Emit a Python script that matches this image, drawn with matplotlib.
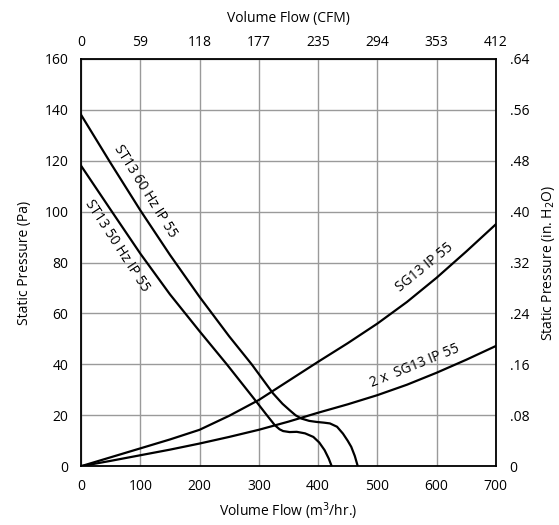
import matplotlib.pyplot as plt

plt.rcParams['font.family'] = ['Open Sans', 'DejaVu Sans']

# curves (x in m3/hr, y in Pa)
st60_x = [0, 50, 100, 150, 200, 250, 288, 324, 340, 352, 362, 372, 385, 397, 410, 420, 432, 442, 450, 456, 462, 467]
st60_y = [138, 119, 100.5, 83, 66.5, 51, 40, 28.6, 24.5, 22, 20, 18.7, 17.8, 17.4, 17.1, 16.8, 15.5, 12.8, 10, 7.6, 4, 0]

st50_x = [0, 52, 100, 150, 200, 246, 296, 312, 327, 335, 341, 352, 364, 378, 392, 402, 411, 418, 423]
st50_y = [118, 100, 83.5, 67.5, 53, 40, 25.3, 20.5, 16.1, 14.5, 13.8, 13.4, 13.5, 12.9, 11.5, 9.3, 6.3, 3, 0]

sg_x = [0, 50, 100, 150, 200, 250, 300, 350, 400, 450, 500, 550, 600, 650, 700]
sg_y = [0, 3.5, 7, 10.5, 14.3, 19.8, 26, 33.5, 41, 48.3, 56, 64.5, 74, 84.3, 95]

sg2_x = [0, 50, 100, 150, 200, 250, 300, 350, 400, 450, 500, 550, 600, 650, 700]
sg2_y = [0, 2.1, 4.3, 6.5, 8.9, 11.5, 14.3, 17.5, 21, 24.3, 27.9, 32, 36.7, 41.8, 47.2]

x_ticks = [0, 100, 200, 300, 400, 500, 600, 700]
cfm_labels = ['0', '59', '118', '177', '235', '294', '353', '412']
y_ticks = [0, 20, 40, 60, 80, 100, 120, 140, 160]
inh2o_labels = ['0', '.08', '.16', '.24', '.32', '.40', '.48', '.56', '.64']

fig = plt.figure(figsize=(5.59, 5.25), dpi=100)
ax = fig.add_axes([0.145, 0.112, 0.742, 0.776])

for xs, ys in [(st60_x, st60_y), (st50_x, st50_y), (sg_x, sg_y), (sg2_x, sg2_y)]:
    ax.plot(xs, ys, color='black', lw=1.6, solid_joinstyle='round')

ax.set_xlim(0, 700)
ax.set_ylim(0, 160)
ax.set_xticks(x_ticks)
ax.set_yticks(y_ticks)
ax.grid(True, color='#9a9a9a', lw=1)
ax.tick_params(length=0, labelsize=10, pad=9)
for s in ax.spines.values():
    s.set_color('black')
    s.set_linewidth(1.3)

ax.set_xlabel('Volume Flow (m$^3$/hr.)', fontsize=10, labelpad=5)
ax.set_ylabel('Static Pressure (Pa)', fontsize=10, labelpad=9)

top = ax.twiny()
top.set_xlim(0, 700)
top.set_xticks(x_ticks)
top.set_xticklabels(cfm_labels)
top.tick_params(length=0, labelsize=10, pad=6)
top.set_xlabel('Volume Flow (CFM)', fontsize=10, labelpad=10)

right = ax.twinx()
right.set_ylim(0, 160)
right.set_yticks(y_ticks)
right.set_yticklabels(inh2o_labels)
right.tick_params(length=0, labelsize=10, pad=10)
right.set_ylabel('Static Pressure (in. H$_2$O)', fontsize=10, labelpad=8)
for a in (top, right):
    for s in a.spines.values():
        s.set_visible(False)

ax.text(108, 108, 'ST13 60 Hz IP 55', rotation=-58, fontsize=10, ha='center', va='center', rotation_mode='anchor')
ax.text(61, 86.5, 'ST13 50 Hz IP 55', rotation=-57, fontsize=10, ha='center', va='center', rotation_mode='anchor')
ax.text(580, 78, 'SG13 IP 55', rotation=39, fontsize=10, ha='center', va='center', rotation_mode='anchor')
ax.text(563, 39.5, '2 x  SG13 IP 55', rotation=22, fontsize=10, ha='center', va='center', rotation_mode='anchor')

fig.savefig('out.png', dpi=100)
